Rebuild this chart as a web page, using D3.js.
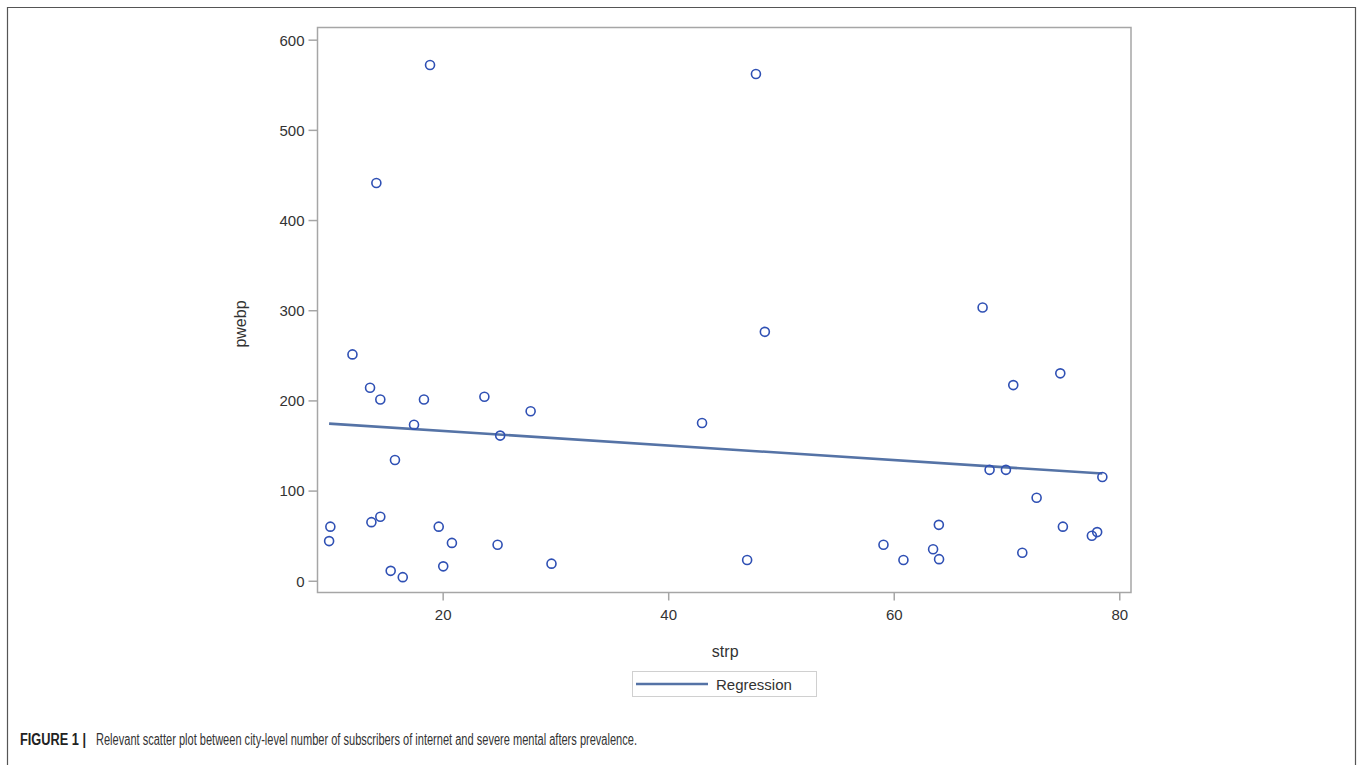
<!DOCTYPE html>
<html><head><meta charset="utf-8">
<script src="https://cdn.jsdelivr.net/npm/d3@7"></script>
<style>body{margin:0;background:#fff;} svg{display:block;}</style>
</head><body>
<svg id="chart" width="1357" height="765"></svg>
<script>
// Data
const strp = [12.0,13.56,14.47,18.34,23.7,17.46,27.8,25.1,43.0,48.57,15.77,10.04,9.93,13.68,14.47,19.65,20.82,24.87,29.65,15.39,16.46,20.05,47.0,
  14.12,18.88,47.78,
  67.88,74.77,70.6,68.5,69.95,78.5,72.67,64.0,75.0,78.04,77.57,59.09,63.49,64.02,60.86,71.4];
const pwebp = [251,214,201,201,204,173,188,161,175,276,134,60,44,65,71,60,42,40,19,11,4,16,23,
  441,572,562,
  303,230,217,123,123,115,92,62,60,54,50,40,35,24,23,31];
const regX = [9.93, 78.5];
const regY = [174.3, 118.9];
const xTicks = [20, 40, 60, 80];
const yTicks = [0, 100, 200, 300, 400, 500, 600];
const legendLabels = ["Regression"];
const xLabel = "strp", yLabel = "pwebp";
const captionBold = "FIGURE 1 |";
const captionText = "Relevant scatter plot between city-level number of subscribers of internet and severe mental afters prevalence.";

const svg = d3.select("#chart");
const L = 317.5, R = 1131, T = 27.5, B = 592.5;
const x = d3.scaleLinear().domain([8.9, 81.04]).range([L, R]);
const y = d3.scaleLinear().domain([-13, 613.5]).range([B, T]);
const axisColor = "#a6a6a6", textColor = "#333";
const font = "'Liberation Sans', Arial, sans-serif";

// outer figure frame
svg.append("path").attr("d", "M7.5,775 V7.5 H1355.5 V775")
  .attr("fill", "none").attr("stroke", "#555").attr("stroke-width", 1.2);

// plot frame
svg.append("rect").attr("x", L).attr("y", T).attr("width", R - L).attr("height", B - T)
  .attr("fill", "#fff").attr("stroke", axisColor).attr("stroke-width", 1.5);

// axes
const xAxis = svg.append("g").attr("transform", `translate(0,${B})`)
  .call(d3.axisBottom(x).tickValues(xTicks).tickSize(8).tickPadding(9).tickFormat(d3.format("d")));
const yAxis = svg.append("g").attr("transform", `translate(${L},0)`)
  .call(d3.axisLeft(y).tickValues(yTicks).tickSize(9).tickPadding(4).tickFormat(d3.format("d")));
[xAxis, yAxis].forEach(a => {
  a.select(".domain").remove();
  a.selectAll(".tick line").attr("stroke", axisColor).attr("stroke-width", 1.5);
  a.selectAll(".tick text").attr("fill", textColor).style("font-family", font).style("font-size", "15px");
});
yAxis.selectAll(".tick text").attr("dy", "0.36em");

// axis labels
svg.append("text").attr("x", x(40) + 57).attr("y", 657).attr("text-anchor", "middle")
  .attr("fill", textColor).style("font-family", font).style("font-size", "16px").text(xLabel);
svg.append("text").attr("transform", `translate(246,${(T + B) / 2 + 14}) rotate(-90)`).attr("text-anchor", "middle")
  .attr("fill", textColor).style("font-family", font).style("font-size", "16px").text(yLabel);

// regression line
svg.append("line").attr("x1", x(regX[0])).attr("y1", y(regY[0])).attr("x2", x(regX[1])).attr("y2", y(regY[1]))
  .attr("stroke", "#5573a6").attr("stroke-width", 2.6);

// points
svg.append("g").selectAll("circle").data(d3.range(strp.length)).join("circle")
  .attr("cx", i => x(strp[i])).attr("cy", i => y(pwebp[i])).attr("r", 4.5)
  .attr("fill", "none").attr("stroke", "#2f50b4").attr("stroke-width", 1.6);

// legend
const lg = svg.append("g");
lg.append("rect").attr("x", 632.5).attr("y", 671.5).attr("width", 184).attr("height", 25)
  .attr("fill", "#fff").attr("stroke", "#d0d0d0").attr("stroke-width", 1);
lg.append("line").attr("x1", 636).attr("x2", 708).attr("y1", 684).attr("y2", 684)
  .attr("stroke", "#5573a6").attr("stroke-width", 2.6);
lg.append("text").attr("x", 716).attr("y", 689.5).attr("fill", textColor)
  .style("font-family", font).style("font-size", "15px").text(legendLabels[0]);

// caption
svg.append("text").attr("x", 20).attr("y", 745).attr("fill", "#222")
  .style("font-family", font).style("font-size", "16px").style("font-weight", "bold")
  .attr("textLength", 66).attr("lengthAdjust", "spacingAndGlyphs").text(captionBold);
svg.append("text").attr("x", 96).attr("y", 745).attr("fill", "#333")
  .style("font-family", font).style("font-size", "16px")
  .attr("textLength", 541).attr("lengthAdjust", "spacingAndGlyphs").text(captionText);
</script>
</body></html>
